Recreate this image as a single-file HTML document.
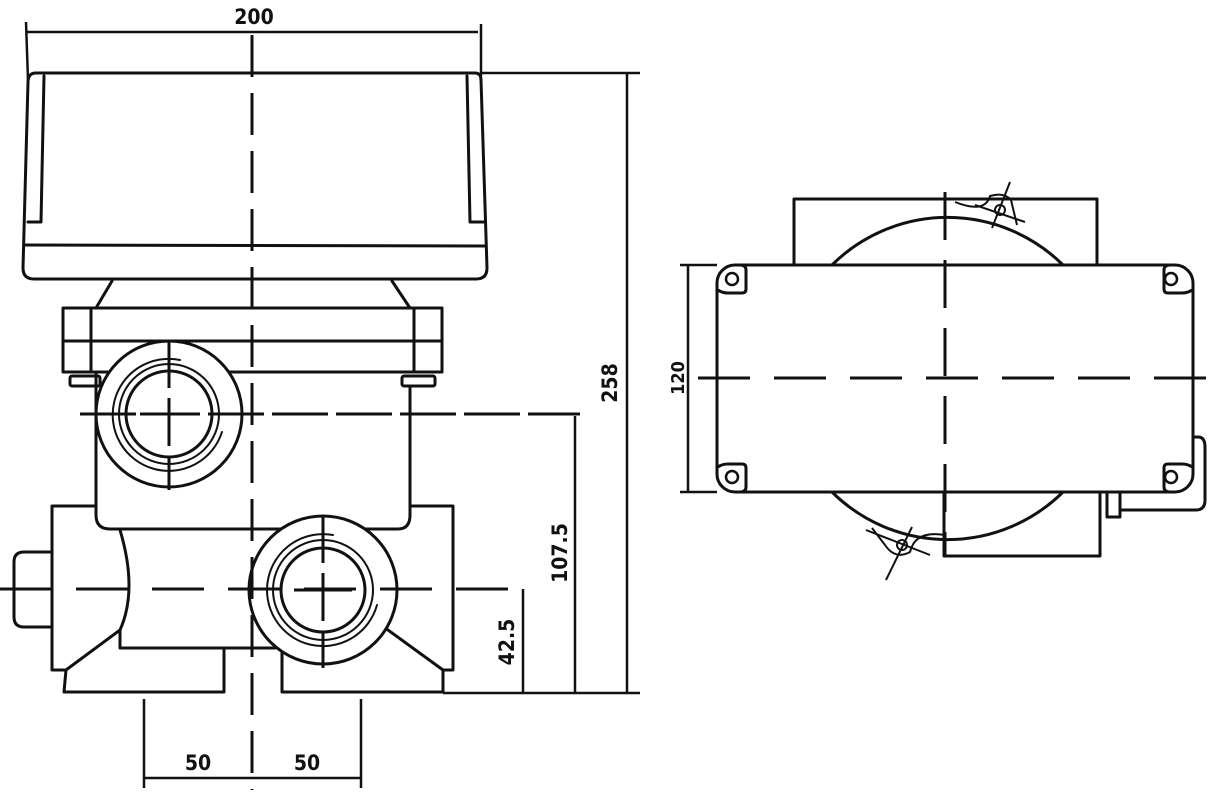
<!DOCTYPE html>
<html><head><meta charset="utf-8"><style>
html,body{margin:0;padding:0;background:#fff;}
svg{display:block;}
text{font-family:"DejaVu Sans Condensed","DejaVu Sans","Liberation Sans",sans-serif;font-weight:bold;font-size:21px;fill:#111;}
</style></head><body>
<svg width="1217" height="792" viewBox="0 0 1217 792" xmlns="http://www.w3.org/2000/svg">
<g fill="none" stroke="#111" stroke-width="3" stroke-linejoin="round" stroke-linecap="round">
<path d="M36 73 L475 73 Q481 73 481 80 L487 268 Q487 279 476 279 L34 279 Q23 279 23 268 L28 82 Q28 73 36 73 Z"/>
<path d="M28 222 L41 222 L44 76"/>
<path d="M467 76 L470 222 L484 222"/>
<line x1="24" y1="245" x2="486" y2="246"/>
<line x1="112" y1="281" x2="96" y2="308"/>
<line x1="392" y1="281" x2="410" y2="308"/>
<rect x="63" y="308" width="379" height="64"/>
<line x1="63" y1="341" x2="442" y2="341"/>
<line x1="91" y1="308" x2="91" y2="372"/>
<line x1="414" y1="308" x2="414" y2="372"/>
<rect x="70" y="376" width="30" height="10" rx="2"/>
<rect x="402" y="376" width="33" height="10" rx="2"/>
<path d="M96 372 L96 515 Q96 529 110 529 L398 529 Q410 529 410 515 L410 386"/>
<path d="M96 506 L52 506 L52 670 L66 670"/>
<path d="M410 506 L453 506 L453 670 L443 670"/>
<path d="M52 552 L24 552 Q14 552 14 562 L14 617 Q14 627 24 627 L52 627"/>
<path d="M120 530 Q138 590 120 630 L120 648 L275 648"/>
<line x1="120" y1="630" x2="66" y2="670"/>
<line x1="388" y1="630" x2="443" y2="670"/>
<path d="M66 670 L64 692 L224 692 L224 648"/>
<path d="M282 646 L282 692 L443 692 L443 670"/>
<circle cx="169" cy="414" r="73" fill="#fff"/>
<circle cx="169" cy="414" r="50" stroke-width="2"/>
<circle cx="169" cy="414" r="43"/>
<path d="M222 432 A56 56 0 1 1 180 360" stroke-width="2"/>
<circle cx="323" cy="590" r="74" fill="#fff"/>
<circle cx="323" cy="590" r="50" stroke-width="2"/>
<circle cx="323" cy="590" r="42"/>
<path d="M377 605 A56 56 0 1 1 333 535" stroke-width="2"/>
</g>
<g stroke="#111" stroke-width="3" fill="none">
<line x1="252" y1="35" x2="252" y2="790" stroke-dasharray="42,16"/>
<line x1="80" y1="414" x2="580" y2="414" stroke-dasharray="56,8"/>
<line x1="0" y1="589" x2="530" y2="589" stroke-dasharray="52,24"/>
<line x1="169" y1="340" x2="169" y2="490" stroke-dasharray="48,10"/>
<line x1="323" y1="515" x2="323" y2="668" stroke-dasharray="48,10"/>
<line x1="140" y1="414" x2="198" y2="414"/>
<line x1="294" y1="590" x2="352" y2="590"/>
<line x1="14" y1="575" x2="14" y2="605"/>
</g>
<g stroke="#111" stroke-width="2.5" fill="none">
<line x1="26" y1="32" x2="478" y2="32"/>
<line x1="26" y1="22" x2="28" y2="80"/>
<line x1="481" y1="24" x2="481" y2="76"/>
<line x1="481" y1="73" x2="640" y2="73"/>
<line x1="443" y1="693" x2="640" y2="693"/>
<line x1="627" y1="73" x2="627" y2="693"/>
<line x1="575" y1="416" x2="575" y2="693"/>
<line x1="523" y1="589" x2="523" y2="693"/>
<line x1="144" y1="699" x2="144" y2="788"/>
<line x1="361" y1="699" x2="361" y2="788"/>
<line x1="144" y1="778" x2="361" y2="778"/>
</g>
<text x="254" y="24" text-anchor="middle">200</text>
<text x="198" y="770" text-anchor="middle">50</text>
<text x="307" y="770" text-anchor="middle">50</text>
<text transform="translate(617,383) rotate(-90)" text-anchor="middle">258</text>
<text transform="translate(567,553) rotate(-90)" text-anchor="middle">107.5</text>
<text transform="translate(514,642) rotate(-90)" text-anchor="middle">42.5</text>
<text transform="translate(684,378) rotate(-90)" text-anchor="middle" style="font-size:18px">120</text>

<g fill="none" stroke="#111" stroke-width="3" stroke-linejoin="round">
<path d="M794 265 L794 199 L1097 199 L1097 265"/>
<path d="M944 492 L944 556 L1100 556 L1100 492"/>
<path d="M832 265 A164 164 0 0 1 1063 265"/>
<path d="M832 492 A164 164 0 0 0 1063 492"/>
<rect x="717" y="265" width="476" height="227" rx="18"/>
<path d="M1193 437 L1198 437 Q1205 437 1205 447 L1205 500 Q1205 510 1196 510 L1120 510"/>
<rect x="1107" y="492" width="13" height="25"/>
<path d="M718 290 Q722 293 728 293 L742 293 Q746 293 746 289 L746 270 Q746 265 740 265"/>
<path d="M1192 290 Q1188 293 1182 293 L1168 293 Q1164 293 1164 289 L1164 270 Q1164 265 1170 265"/>
<path d="M718 467 Q722 464 728 464 L742 464 Q746 464 746 468 L746 487 Q746 492 740 492"/>
<path d="M1192 467 Q1188 464 1182 464 L1168 464 Q1164 464 1164 468 L1164 487 Q1164 492 1170 492"/>
<circle cx="732" cy="279" r="6" stroke-width="2.5"/>
<circle cx="1171" cy="279" r="6" stroke-width="2.5"/>
<circle cx="732" cy="477" r="6" stroke-width="2.5"/>
<circle cx="1171" cy="477" r="6" stroke-width="2.5"/>
<g stroke-width="2">
<circle cx="1000" cy="210" r="5"/>
<path d="M955 202 Q985 214 990 196 Q1004 192 1011 200 L1017 225"/>
<line x1="1010" y1="182" x2="992" y2="228"/>
<line x1="975" y1="205" x2="1025" y2="222"/>
<circle cx="902" cy="545" r="5"/>
<path d="M945 535 Q915 530 910 552 Q895 560 885 545 L872 528"/>
<line x1="912" y1="527" x2="886" y2="580"/>
<line x1="866" y1="530" x2="930" y2="555"/>
</g>
</g>
<g stroke="#111" stroke-width="3" fill="none">
<line x1="698" y1="378" x2="1217" y2="378" stroke-dasharray="52,24"/>
<line x1="945" y1="192" x2="945" y2="555" stroke-dasharray="48,20"/>
</g>
<g stroke="#111" stroke-width="2.5">
<line x1="680" y1="265" x2="717" y2="265"/>
<line x1="680" y1="492" x2="717" y2="492"/>
<line x1="688" y1="265" x2="688" y2="492"/>
</g>
</svg>
</body></html>
